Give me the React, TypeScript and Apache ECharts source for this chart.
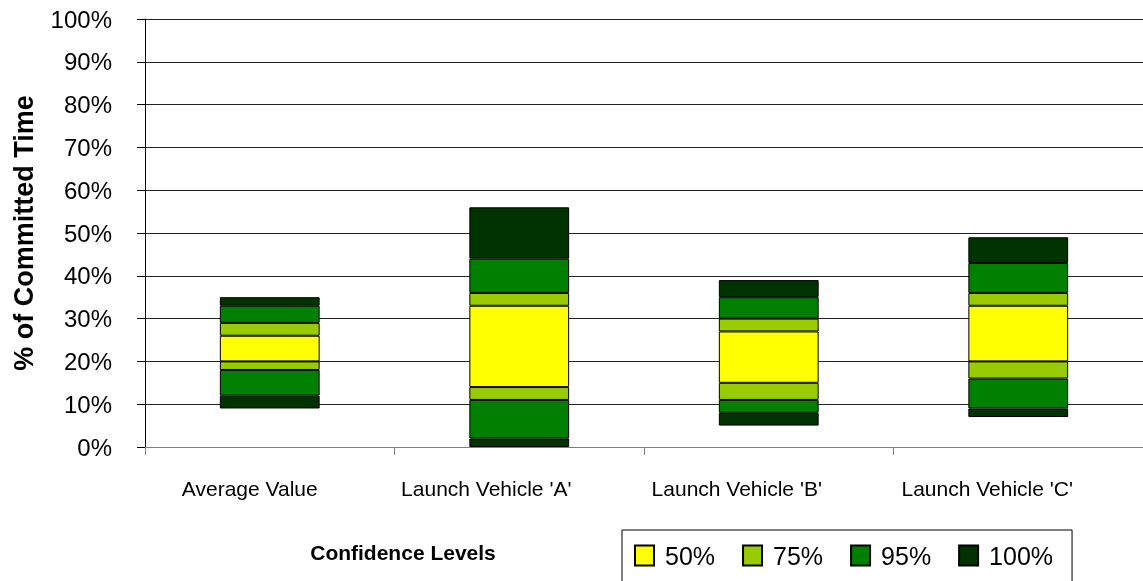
import React, { useEffect, useRef } from "react";
import * as echarts from "echarts";

const categories = ["Average Value", "Launch Vehicle 'A'", "Launch Vehicle 'B'", "Launch Vehicle 'C'"];
// Boundaries of confidence bands (in %), bottom to top
const low100 = [9, 0, 5, 7];
const low95 = [12, 2, 8, 9];
const low75 = [18, 11, 11, 16];
const low50 = [20, 14, 15, 20];
const high50 = [26, 33, 27, 33];
const high75 = [29, 36, 30, 36];
const high95 = [33, 44, 35, 43];
const high100 = [35, 56, 39, 49];
const yTicks = [0, 10, 20, 30, 40, 50, 60, 70, 80, 90, 100];
const levelNames = ["50%", "75%", "95%", "100%"];
const levelColors: Record<string, string> = {
  "50%": "#FFFF00",
  "75%": "#99CC00",
  "95%": "#008000",
  "100%": "#003300",
};

const diff = (a: number[], b: number[]) => a.map((v, i) => v - b[i]);

export default function App() {
  const ref = useRef<HTMLDivElement>(null);
  useEffect(() => {
    if (!ref.current) return;
    const chart = echarts.init(ref.current, undefined, { renderer: "svg" });
    const font = "'Liberation Sans', Arial, sans-serif";
    const labelShift = [40, 66, 64, 62];
    const rich: Record<string, any> = {};
    labelShift.forEach((p, i) => {
      rich["c" + i] = { color: "#000", fontSize: 21, fontFamily: font, padding: [0, p, 0, 0] };
    });
    const segs: [string, number[]][] = [
      ["100%", diff(low95, low100)],
      ["95%", diff(low75, low95)],
      ["75%", diff(low50, low75)],
      ["50%", diff(high50, low50)],
      ["75%", diff(high75, high50)],
      ["95%", diff(high95, high75)],
      ["100%", diff(high100, high95)],
    ];
    const series: any[] = [
      {
        name: "base",
        type: "bar",
        stack: "s",
        data: low100,
        barWidth: "40%",
        itemStyle: { color: "transparent", borderWidth: 0 },
        silent: true,
      },
      ...segs.map(([name, data]) => ({
        name,
        type: "bar",
        stack: "s",
        data,
        barWidth: "40%",
        itemStyle: { color: levelColors[name], borderColor: "#000", borderWidth: 1 },
      })),
    ];
    chart.setOption({
      animation: false,
      grid: { left: 145, right: 0, top: 19, bottom: 134, containLabel: false },
      xAxis: {
        type: "category",
        data: categories,
        axisLine: { lineStyle: { color: "#808080", width: 1 } },
        axisTick: { show: true, interval: 0, length: 8, lineStyle: { color: "#808080" } },
        axisLabel: {
          interval: 0,
          hideOverlap: false,
          color: "#000",
          fontSize: 21,
          fontFamily: font,
          margin: 31,
          formatter: (v: string, i: number) => `{c${i}|${v}}`,
          rich,
        },
      },
      yAxis: {
        type: "value",
        min: 0,
        max: 100,
        interval: 10,
        axisLine: { show: true, lineStyle: { color: "#000", width: 1 } },
        axisTick: { show: true, length: 8, lineStyle: { color: "#000" } },
        axisLabel: {
          color: "#000",
          fontSize: 24,
          fontFamily: font,
          margin: 33,
          formatter: (v: number) => (yTicks.includes(v) ? v + "%" : ""),
        },
        splitLine: { show: true, lineStyle: { color: "#222", width: 1 } },
      },
      legend: {
        data: levelNames,
        left: 622,
        top: 530,
        width: 500,
        padding: [13, 19, 14, 12],
        borderColor: "#000",
        borderWidth: 1,
        itemWidth: 19,
        itemHeight: 20,
        itemGap: 27,
        icon: "rect",
        selectedMode: false,
        textStyle: { color: "#000", fontSize: 25, fontFamily: font, padding: [0, 0, 0, 6] },
      },
      graphic: [
        {
          type: "text",
          x: 403,
          y: 552,
          style: {
            text: "Confidence Levels",
            font: `bold 21px ${font}`,
            fill: "#000",
            align: "center",
            verticalAlign: "middle",
          },
        },
        {
          type: "text",
          x: 24,
          y: 233,
          rotation: Math.PI / 2,
          style: {
            text: "% of Committed Time",
            font: `bold 27px ${font}`,
            fill: "#000",
            align: "center",
            verticalAlign: "middle",
          },
        },
      ],
      series,
    });
    return () => chart.dispose();
  }, []);
  return <div ref={ref} style={{ position: "fixed", left: 0, top: 0, width: 1143, height: 581 }} />;
}
